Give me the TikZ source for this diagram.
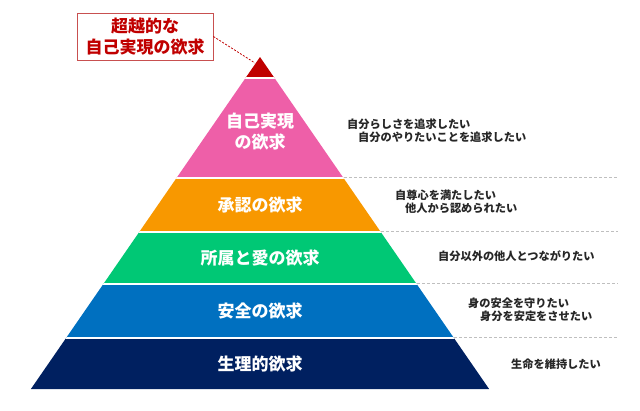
\documentclass[tikz,border=0pt]{standalone}
\usepackage{fontspec}
\newfontfamily\jp{Noto Sans CJK JP}
\definecolor{cRed}{HTML}{C00000}
\definecolor{cPink}{HTML}{EE5FA8}
\definecolor{cOrange}{HTML}{F89800}
\definecolor{cGreen}{HTML}{00C875}
\definecolor{cBlue}{HTML}{0070C0}
\definecolor{cNavy}{HTML}{002060}
\definecolor{cBox}{HTML}{C85050}
\tikzset{
  lvl/.style={text=white, font=\jp\bfseries\fontsize{17}{20}\selectfont, align=center, inner sep=0},
  desc/.style={anchor=west, font=\jp\bfseries\fontsize{11.2}{13.5}\selectfont, text=black!85, inner sep=0, align=left},
  sepline/.style={draw=gray!50, dash pattern=on 3pt off 2pt, line width=0.9pt},
  gapline/.style={draw=white, line width=1.8pt},
}
\begin{document}
\begin{tikzpicture}[x=1pt,y=-1pt]
\useasboundingbox (0,0) rectangle (640,410);
% pyramid bands
\begin{scope}
  \clip (260,57) -- (489.1,389) -- (30.9,389) -- cycle;
  \fill[cRed]    (0,50)  rectangle (640,78);
  \fill[cPink]   (0,78)  rectangle (640,178);
  \fill[cOrange] (0,178) rectangle (640,232);
  \fill[cGreen]  (0,232) rectangle (640,284);
  \fill[cBlue]   (0,284) rectangle (640,338);
  \fill[cNavy]   (0,338) rectangle (640,390);
  \draw[gapline] (0,78)  -- (640,78);
  \draw[gapline] (0,178) -- (640,178);
  \draw[gapline] (0,232) -- (640,232);
  \draw[gapline] (0,284) -- (640,284);
  \draw[gapline] (0,338) -- (640,338);
\end{scope}
% dashed separators
\coordinate (s1a) at (344,177.5); \coordinate (s1b) at (618,177.5);
\coordinate (s2a) at (381,231.5); \coordinate (s2b) at (618,231.5);
\coordinate (s3a) at (417,283.5); \coordinate (s3b) at (618,283.5);
\coordinate (s4a) at (454,337.5); \coordinate (s4b) at (618,337.5);
\draw[sepline] (s1a) -- (s1b);
\draw[sepline] (s2a) -- (s2b);
\draw[sepline] (s3a) -- (s3b);
\draw[sepline] (s4a) -- (s4b);
% level labels
\node[lvl] (l5) at (260,131.5) {自己実現\\[1pt]の欲求};
\node[lvl] (l4) at (260,204.5) {承認の欲求};
\node[lvl] (l3) at (260,257.5) {所属と愛の欲求};
\node[lvl] (l2) at (260,310.5) {安全の欲求};
\node[lvl] (l1) at (260,363.5) {生理的欲求};
% descriptions
\node[desc] (d5a) at (347,124) {自分らしさを追求したい};
\node[desc] (d5b) at (358,137.5) {自分のやりたいことを追求したい};
\node[desc] (d4a) at (395,195) {自尊心を満たしたい};
\node[desc] (d4b) at (405,208.5) {他人から認められたい};
\node[desc] (d3)  at (438,256) {自分以外の他人とつながりたい};
\node[desc] (d2a) at (468,303) {身の安全を守りたい};
\node[desc] (d2b) at (480,316.5) {身分を安定をさせたい};
\node[desc] (d1)  at (511,364.5) {生命を維持したい};
% callout
\node[draw=cBox, line width=0.9pt, minimum width=136pt, minimum height=47pt, inner sep=0,
      text=cRed, font=\jp\bfseries\fontsize{17}{21.5}\selectfont, align=center] (callout) at (145,36.5)
      {超越的な\\自己実現の欲求};
\coordinate (apexpt) at (255,63);
\draw[cRed, line width=0.8pt, dash pattern=on 2pt off 1.5pt] (callout.east) -- (apexpt);
\end{tikzpicture}
\end{document}
